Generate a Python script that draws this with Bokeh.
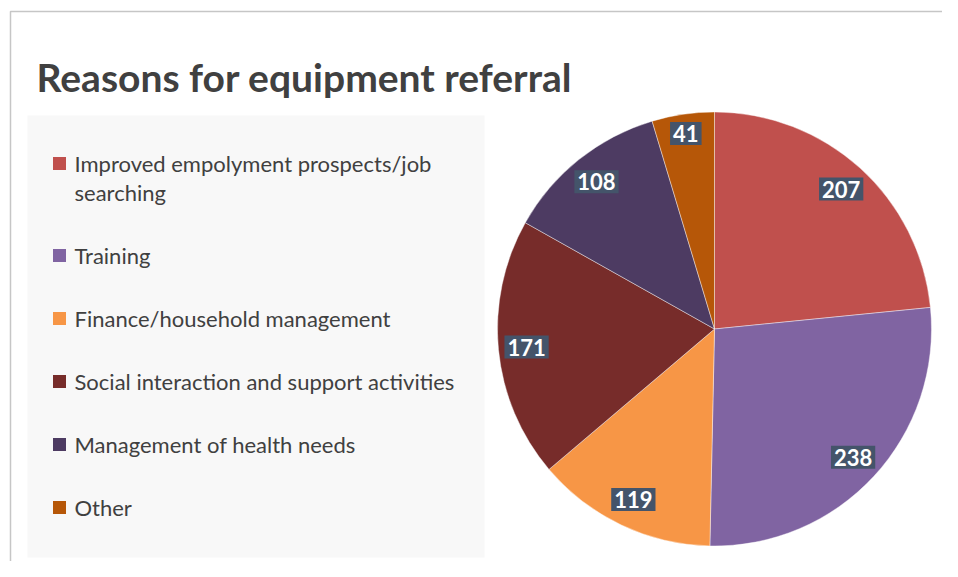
import math
import textwrap
from bokeh.plotting import figure
from bokeh.models import Range1d, ColumnDataSource
from bokeh.core.properties import value
from bokeh.embed import file_html
from bokeh.resources import INLINE

# ---- data ----
title_text = "Reasons for equipment referral"
categories = [
    "Improved empolyment prospects/job searching",
    "Training",
    "Finance/household management",
    "Social interaction and support activities",
    "Management of health needs",
    "Other",
]
counts = [207, 238, 119, 171, 108, 41]
colors = ["#C0504D", "#8064A2", "#F79646", "#772C2A", "#4D3B62", "#B65708"]

W, H = 942, 561
p = figure(width=W, height=H, output_backend="svg", toolbar_location=None,
           x_range=Range1d(0, W), y_range=Range1d(0, H), min_border=0,
           background_fill_color="white", border_fill_color="white")
p.axis.visible = False
p.grid.visible = False
p.outline_line_color = None

def py(page_y):
    # convert screen y (from top) to figure y
    return H - page_y

def px(page_x):
    return page_x

# chart frame (partly cut off)
p.line([px(10), px(10), W + 5], [-5, py(11), py(11)], line_color="#C6C6C6", line_width=1.5)

# legend panel
p.quad(left=px(27), right=px(484), top=py(115), bottom=py(557),
       fill_color="#F8F8F8", line_color=None)

# title
p.text(x=[px(36)], y=[py(76)], text=[title_text], text_font=value("Lato"),
       text_font_style="bold", text_font_size="39px", text_color="#404040",
       text_baseline="alphabetic", text_align="left")

# legend entries
line_y = py(163)
mk_x, mk_y, mk_c = [], [], []
tx, ty, tt = [], [], []
for cat, col in zip(categories, colors):
    lines = textwrap.wrap(cat, 41)
    mk_x.append(px(59)); mk_y.append(line_y); mk_c.append(col)
    for j, ln in enumerate(lines):
        tx.append(px(74)); ty.append(line_y); tt.append(ln)
        if j < len(lines) - 1:
            line_y -= 29
    line_y -= 63
p.scatter(x=mk_x, y=mk_y, marker="square", size=13, fill_color=mk_c, line_color=None)
p.text(x=tx, y=ty, text=tt, text_font=value("Lato"), text_font_size="22px",
       text_color="#404040", text_baseline="middle", text_align="left")

# pie
cx, cy, R = px(714), py(328.5), 217
total = sum(counts)
starts, ends, lx, ly, lt = [], [], [], [], []
cum = 0
for v in counts:
    a0 = math.pi / 2 - 2 * math.pi * cum / total
    cum += v
    a1 = math.pi / 2 - 2 * math.pi * cum / total
    starts.append(a1); ends.append(a0)
    mid = (a0 + a1) / 2
    frac = v / total
    rr = R * (0.87 if frac > 0.06 else 0.91)
    lx.append(cx + rr * math.cos(mid)); ly.append(cy + rr * math.sin(mid)); lt.append(str(v))

src = ColumnDataSource(dict(start=starts, end=ends, color=colors))
p.wedge(x=cx, y=cy, radius=R, start_angle="start", end_angle="end",
        fill_color="color", line_color="white", line_width=0.6, line_alpha=0.7, source=src)

p.text(x=lx, y=ly, text=lt, text_font=value("Lato"), text_font_style="bold",
       text_font_size="22px", text_color="white", text_align="center",
       text_baseline="middle", background_fill_color="#44546A",
       padding=3)

open("out.html", "w").write(file_html(p, INLINE))
